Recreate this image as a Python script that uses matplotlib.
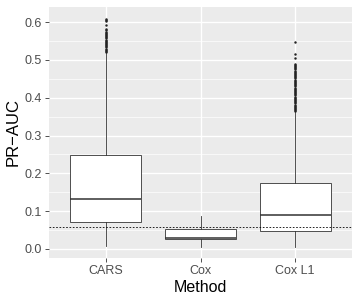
import matplotlib
matplotlib.use('Agg')
import matplotlib.pyplot as plt

plt.rcParams['font.family'] = ['Liberation Sans', 'DejaVu Sans']

# box statistics
methods = ['CARS', 'Cox', 'Cox L1']
q1 = [0.070, 0.026, 0.048]
med = [0.131, 0.028, 0.091]
q3 = [0.249, 0.053, 0.174]
wlo = [0.008, 0.006, 0.006]
whi = [0.518, 0.088, 0.362]
outliers = [
    [0.521, 0.524, 0.527, 0.530, 0.533, 0.536, 0.539, 0.542, 0.545, 0.548,
     0.551, 0.554, 0.557, 0.560, 0.563, 0.566, 0.569, 0.572, 0.575, 0.578,
     0.581, 0.593, 0.603, 0.606, 0.609],
    [],
    [0.364, 0.367, 0.370, 0.373, 0.376, 0.379, 0.382, 0.385, 0.388, 0.391,
     0.394, 0.397, 0.400, 0.403, 0.406, 0.409, 0.412, 0.415, 0.418, 0.421,
     0.424, 0.427, 0.430, 0.433, 0.436, 0.439, 0.442, 0.445, 0.448, 0.451,
     0.454, 0.457, 0.460, 0.463, 0.466, 0.469, 0.472, 0.475, 0.478, 0.481,
     0.484, 0.487, 0.490, 0.504, 0.516, 0.547],
]
baseline = 0.057

stats = []
for i, m in enumerate(methods):
    stats.append(dict(label=m, q1=q1[i], med=med[i], q3=q3[i],
                      whislo=wlo[i], whishi=whi[i], fliers=outliers[i]))

fig = plt.figure(figsize=(3.6, 3.0), dpi=100)
ax = fig.add_axes([49/360, 1 - 258/300, (352-49)/360, (258-7)/300])
ax.set_facecolor('#EBEBEB')

ax.set_yticks([0.05, 0.15, 0.25, 0.35, 0.45, 0.55], minor=True)
ax.grid(True, which='major', color='white', linewidth=1.0)
ax.grid(True, which='minor', axis='y', color='white', linewidth=0.5)
ax.set_axisbelow(True)

ax.bxp(stats, positions=[1, 2, 3], widths=0.75, patch_artist=True,
       boxprops=dict(facecolor='white', edgecolor='#333333', linewidth=0.6),
       medianprops=dict(color='#333333', linewidth=1.1),
       whiskerprops=dict(color='#333333', linewidth=0.6),
       capprops=dict(linewidth=0),
       flierprops=dict(marker='o', markersize=1.4, markerfacecolor='#222222',
                       markeredgecolor='#222222', markeredgewidth=0.3))

ax.axhline(baseline, color='black', linestyle=(0, (2, 2)), linewidth=0.6)

ax.set_xlim(0.4, 3.6)
ax.set_ylim(-0.024, 0.640)
ax.set_yticks([0.0, 0.1, 0.2, 0.3, 0.4, 0.5, 0.6])
ax.set_yticklabels(['0.0', '0.1', '0.2', '0.3', '0.4', '0.5', '0.6'])
ax.set_xticks([1, 2, 3])
ax.set_xticklabels(methods)
for s in ax.spines.values():
    s.set_visible(False)
ax.tick_params(which='major', colors='#333333', labelcolor='#4D4D4D',
               labelsize=9, length=3, width=0.6, pad=2)
ax.tick_params(which='minor', length=0)

ax.set_xlabel('Method', fontsize=11.5, labelpad=2)
ax.set_ylabel('PR\u2212AUC', fontsize=12, labelpad=3)

fig.savefig('out.png', dpi=100)
